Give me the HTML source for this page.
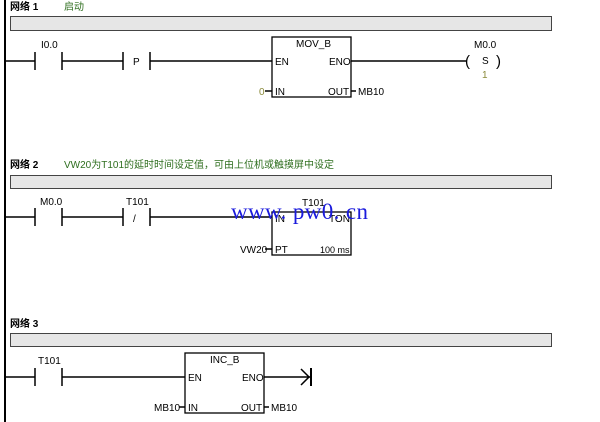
<!DOCTYPE html>
<html><head><meta charset="utf-8"><style>
html,body{margin:0;padding:0;background:#fff;}
svg{display:block}
text{font-family:"Liberation Sans","Noto Sans CJK SC",sans-serif;font-size:10px;fill:#000}
.b{font-weight:bold}
.g{fill:#2e6e1e}
.o{fill:#8a8a3a}
</style></head><body>
<svg width="600" height="422" viewBox="0 0 600 422" xmlns="http://www.w3.org/2000/svg">
<rect x="4" y="0" width="2" height="422" fill="#000"/>
<!-- Network 1 -->
<text x="10" y="10" class="b">网络 1</text>
<text x="64" y="10" class="g">启动</text>
<rect x="10.5" y="16.5" width="541" height="14" fill="#e6e6e6" stroke="#444"/>
<g stroke="#000" stroke-width="1.5" fill="none">
<line x1="5" y1="61" x2="35" y2="61"/><line x1="35" y1="52" x2="35" y2="70"/>
<line x1="62" y1="52" x2="62" y2="70"/><line x1="62" y1="61" x2="123" y2="61"/>
<line x1="123" y1="52" x2="123" y2="70"/><line x1="150" y1="52" x2="150" y2="70"/>
<line x1="150" y1="61" x2="272" y2="61"/>
<rect x="272" y="37" width="79" height="60" stroke-width="1.3"/>
<line x1="351" y1="61" x2="466" y2="61"/>
<line x1="265" y1="91" x2="272" y2="91"/><line x1="351" y1="91" x2="356" y2="91"/>
</g>
<text x="41" y="48">I0.0</text>
<text x="133" y="65">P</text>
<text x="296" y="47">MOV_B</text>
<text x="275" y="65">EN</text>
<text x="329" y="65">ENO</text>
<text x="259" y="95" class="o">0</text>
<text x="275" y="95">IN</text>
<text x="328" y="95">OUT</text>
<text x="358" y="95">MB10</text>
<text x="474" y="48">M0.0</text>
<text x="465" y="66" style="font-size:15px">(</text>
<text x="496" y="66" style="font-size:15px">)</text>
<text x="482" y="64">S</text>
<text x="482" y="78" class="o">1</text>
<!-- Network 2 -->
<text x="10" y="168" class="b">网络 2</text>
<text x="64" y="168" class="g">VW20为T101的延时时间设定值，可由上位机或触摸屏中设定</text>
<rect x="10.5" y="175.5" width="541" height="13" fill="#e6e6e6" stroke="#444"/>
<g stroke="#000" stroke-width="1.5" fill="none">
<line x1="5" y1="217" x2="35" y2="217"/><line x1="35" y1="208" x2="35" y2="226"/>
<line x1="62" y1="208" x2="62" y2="226"/><line x1="62" y1="217" x2="123" y2="217"/>
<line x1="123" y1="208" x2="123" y2="226"/><line x1="150" y1="208" x2="150" y2="226"/>
<line x1="150" y1="217" x2="272" y2="217"/>
<rect x="272" y="212" width="79" height="43" stroke-width="1.3"/>
<line x1="265" y1="249" x2="272" y2="249"/>
</g>
<text x="40" y="205">M0.0</text>
<text x="126" y="205">T101</text>
<text x="133" y="222">/</text>
<text x="302" y="206">T101</text>
<text x="275" y="222">IN</text>
<text x="329" y="222">TON</text>
<text x="240" y="253">VW20</text>
<text x="275" y="253">PT</text>
<text x="320" y="253" style="font-size:9px">100 ms</text>
<text x="231" y="219" textLength="137" lengthAdjust="spacing" style="font-family:'Liberation Serif',serif;font-size:23px;fill:#1a1adc">www. pw0. cn</text>
<!-- Network 3 -->
<text x="10" y="327" class="b">网络 3</text>
<rect x="10.5" y="333.5" width="541" height="13" fill="#e6e6e6" stroke="#444"/>
<g stroke="#000" stroke-width="1.5" fill="none">
<line x1="5" y1="377" x2="35" y2="377"/><line x1="35" y1="368" x2="35" y2="386"/>
<line x1="62" y1="368" x2="62" y2="386"/><line x1="62" y1="377" x2="185" y2="377"/>
<rect x="185" y="353" width="79" height="60" stroke-width="1.3"/>
<line x1="264" y1="377" x2="311" y2="377"/>
<polyline points="301,369 309,377 301,385"/><line x1="311" y1="368" x2="311" y2="386" stroke-width="2"/>
<line x1="179" y1="407" x2="185" y2="407"/><line x1="264" y1="407" x2="269" y2="407"/>
</g>
<text x="38" y="364">T101</text>
<text x="210" y="363">INC_B</text>
<text x="188" y="381">EN</text>
<text x="242" y="381">ENO</text>
<text x="154" y="411">MB10</text>
<text x="188" y="411">IN</text>
<text x="241" y="411">OUT</text>
<text x="271" y="411">MB10</text>
</svg>
</body></html>
